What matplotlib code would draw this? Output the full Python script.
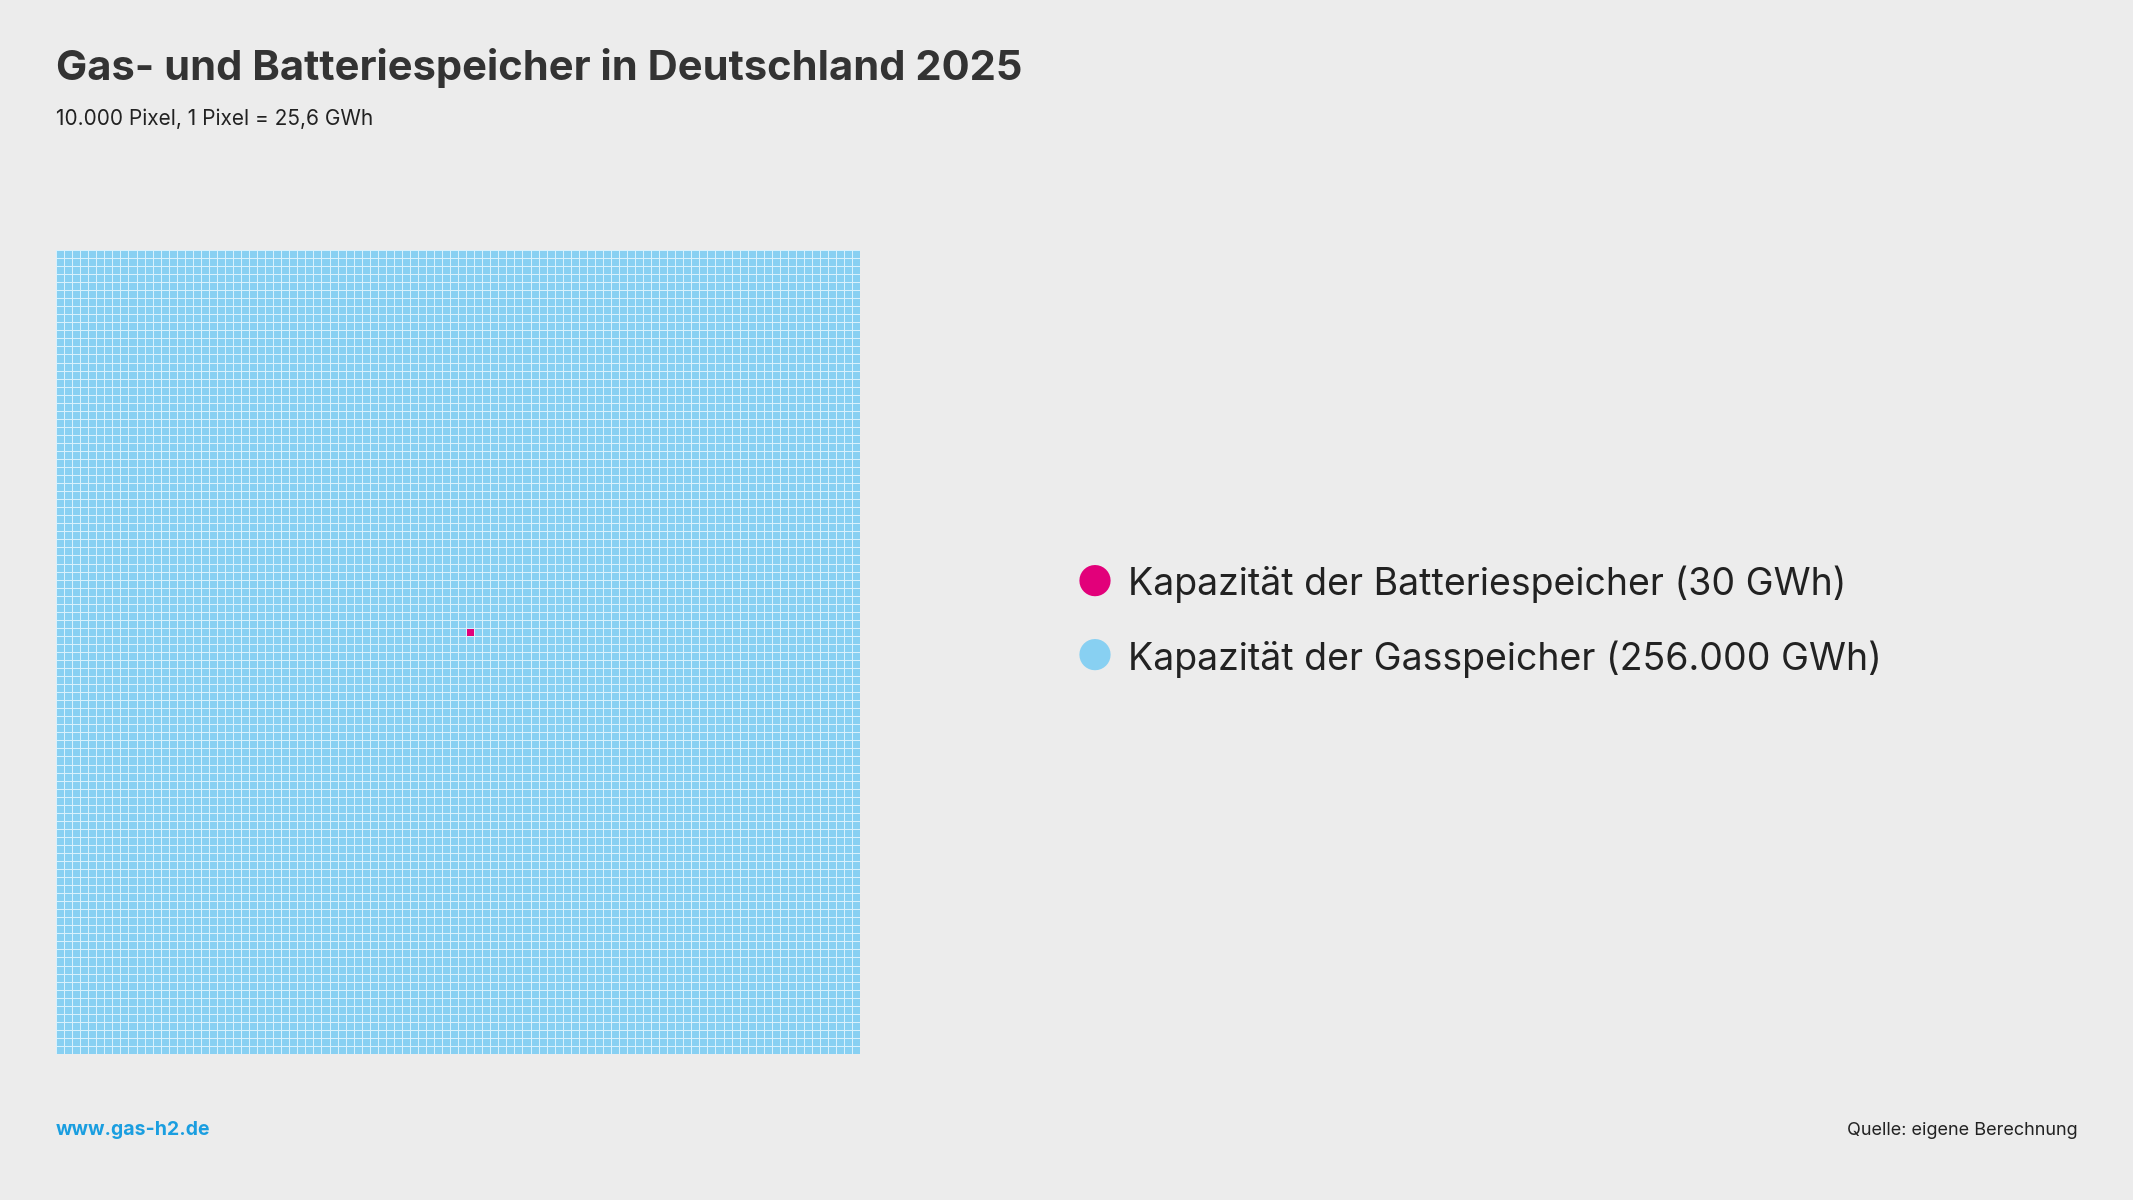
import matplotlib
matplotlib.use("Agg")
import matplotlib.pyplot as plt
import numpy as np

# data
total_pixels = 10000
gwh_per_pixel = 25.6
battery_gwh = 30
gas_gwh = 256000
battery_cells = [(47, 51)]  # (row, col) of battery pixel
labels = ["Kapazität der Batteriespeicher (30 GWh)", "Kapazität der Gasspeicher (256.000 GWh)"]

bg = "#ececec"
blue = "#88d0f2"
pink = "#e2007a"

n = int(np.sqrt(total_pixels))
grid = np.zeros((n, n))
for r, c in battery_cells:
    grid[r, c] = 1

fig = plt.figure(figsize=(21.33, 12), dpi=100, facecolor=bg)
plt.rcParams['font.family'] = ['Inter', 'DejaVu Sans']

ax = fig.add_axes([0.0263, 0.1217, 0.377, 0.67])
cmap = matplotlib.colors.ListedColormap([blue, pink])
ax.pcolormesh(grid, cmap=cmap, vmin=0, vmax=1, edgecolors="#d9f1fc", linewidth=0.7)
ax.set_xlim(0, n)
ax.set_ylim(n, 0)
ax.axis("off")

fig.text(0.0263, 0.943, "Gas- und Batteriespeicher in Deutschland 2025", fontsize=30,
         fontweight="bold", color="#333333", va="center")
fig.text(0.0263, 0.901, "10.000 Pixel, 1 Pixel = 25,6 GWh", fontsize=15, color="#222222", va="center")

for y, col, lab in [(0.513, pink, labels[0]), (0.451, blue, labels[1])]:
    fig.text(0.513, y, "\u25CF", fontsize=30, color=col, va="center", ha="center")
    fig.text(0.529, y, lab, fontsize=27, color="#222222", va="center")

fig.text(0.0263, 0.058, "www.gas-h2.de", fontsize=14, fontweight="bold", color="#1a9ee0", va="center")
fig.text(0.974, 0.058, "Quelle: eigene Berechnung", fontsize=13, color="#222222", va="center", ha="right")

fig.savefig("out.png", dpi=100, facecolor=bg)
